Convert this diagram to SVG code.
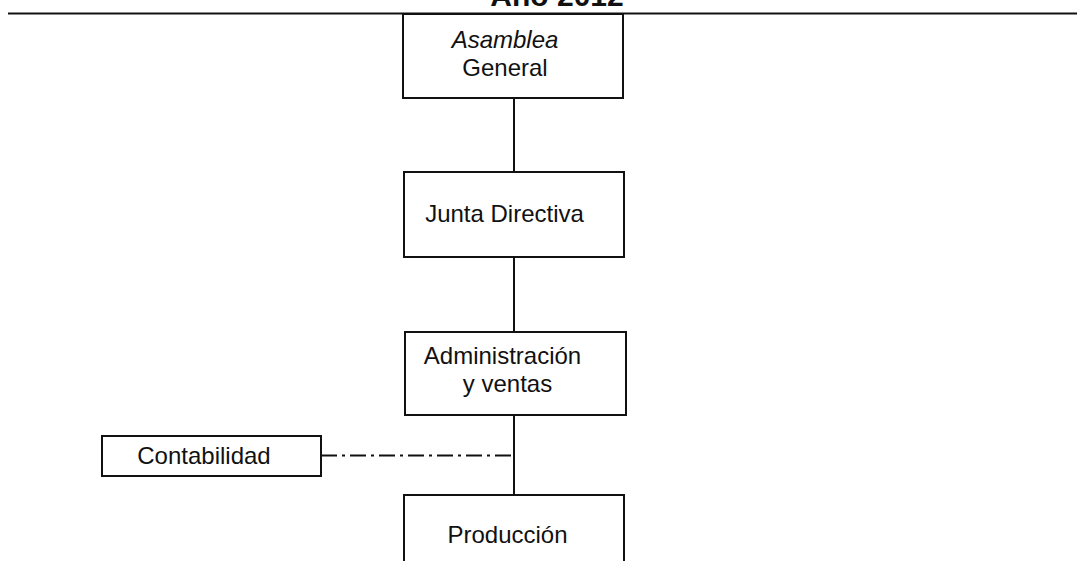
<svg xmlns="http://www.w3.org/2000/svg" width="1077" height="561" viewBox="0 0 1077 561">
<style>
.box{fill:#fff;stroke:#111;stroke-width:2}
.t{font-family:"Liberation Sans",Arial,sans-serif;font-size:24px;fill:#111;text-anchor:middle}
.ln{stroke:#111;stroke-width:2;fill:none}
</style>
<rect width="1077" height="561" fill="#fff"/>
<text x="557" y="6" font-family="Liberation Sans,Arial,sans-serif" font-size="30" font-weight="bold" text-anchor="middle" fill="#111">Año 2012</text>
<g id="connectors">
<line class="ln" x1="8" y1="13.5" x2="1077" y2="13.5"/>
<line class="ln" x1="514" y1="98" x2="514" y2="172"/>
<line class="ln" x1="514" y1="257" x2="514" y2="332"/>
<line class="ln" x1="514" y1="415" x2="514" y2="495"/>
<line class="ln" x1="321" y1="455.5" x2="514" y2="455.5" stroke-dasharray="16 5 3 5"/>
</g>
<g id="asamblea">
<rect class="box" x="403" y="14" width="220" height="84"/>
<text class="t" x="505" y="48" font-style="italic">Asamblea</text>
<text class="t" x="505" y="76">General</text>
</g>
<g id="junta">
<rect class="box" x="404" y="172" width="220" height="85"/>
<text class="t" x="504.5" y="222">Junta Directiva</text>
</g>
<g id="administracion">
<rect class="box" x="405" y="332" width="221" height="83"/>
<text class="t" x="502.5" y="364">Administración</text>
<text class="t" x="507.5" y="392">y ventas</text>
</g>
<g id="contabilidad">
<rect class="box" x="102" y="436" width="219" height="40"/>
<text class="t" x="204" y="464">Contabilidad</text>
</g>
<g id="produccion">
<rect class="box" x="404" y="495" width="220" height="80"/>
<text class="t" x="507.5" y="543">Producción</text>
</g>
</svg>
